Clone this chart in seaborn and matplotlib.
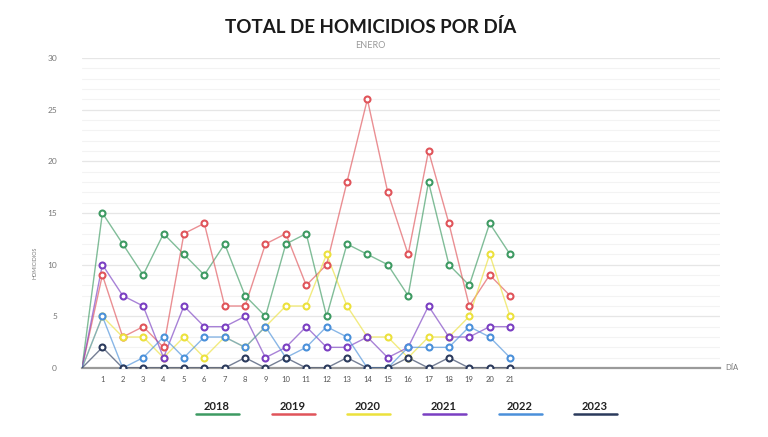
import numpy as np
import pandas as pd
import matplotlib
matplotlib.use("Agg")
import matplotlib.pyplot as plt
from matplotlib.lines import Line2D
from matplotlib.ticker import MultipleLocator
import seaborn as sns

# ---- data ----
days = list(range(1, 22))
years = ["2018", "2019", "2020", "2021", "2022", "2023"]
h2018 = [15, 12, 9, 13, 11, 9, 12, 7, 5, 12, 13, 5, 12, 11, 10, 7, 18, 10, 8, 14, 11]
h2019 = [9, 3, 4, 2, 13, 14, 6, 6, 12, 13, 8, 10, 18, 26, 17, 11, 21, 14, 6, 9, 7]
h2020 = [5, 3, 3, 1, 3, 1, 3, 2, 4, 6, 6, 11, 6, 3, 3, 1, 3, 3, 5, 11, 5]
h2021 = [10, 7, 6, 1, 6, 4, 4, 5, 1, 2, 4, 2, 2, 3, 1, 2, 6, 3, 3, 4, 4]
h2022 = [5, 0, 1, 3, 1, 3, 3, 2, 4, 1, 2, 4, 3, 0, 0, 2, 2, 2, 4, 3, 1]
h2023 = [2, 0, 0, 0, 0, 0, 0, 1, 0, 1, 0, 0, 1, 0, 0, 1, 0, 1, 0, 0, 0]
series = dict(zip(years, [h2018, h2019, h2020, h2021, h2022, h2023]))
origin_day, origin_value = 0, 0
x_ticks = days
y_ticks = [0, 5, 10, 15, 20, 25, 30]

colors = {
    "2018": "#3d9a62",
    "2019": "#e0545a",
    "2020": "#ece13c",
    "2021": "#7a3fc2",
    "2022": "#4a90da",
    "2023": "#2b3a5c",
}

rows = []
for yr, vals in series.items():
    rows.append({"year": yr, "dia": origin_day, "homicidios": origin_value})
    for d, v in zip(days, vals):
        rows.append({"year": yr, "dia": d, "homicidios": v})
df = pd.DataFrame(rows)
pts = df[df["dia"] > origin_day]

# ---- style ----
sns.set_theme(style="white")
plt.rcParams["font.family"] = ["Lato", "DejaVu Sans"]

fig = plt.figure(figsize=(7.68, 4.37), dpi=100)
fig.patch.set_facecolor("white")
ax = fig.add_axes([82 / 768, 1 - 368 / 437, (720 - 82) / 768, (368 - 58) / 437])

# lines (lighter)
sns.lineplot(data=df, x="dia", y="homicidios", hue="year", hue_order=years,
             palette=colors, lw=1.0, alpha=0.65, legend=False, ax=ax,
             estimator=None, sort=False, zorder=2)
# markers (open circles)
for yr in years:
    sub = pts[pts["year"] == yr]
    sns.lineplot(data=sub, x="dia", y="homicidios", color=colors[yr],
                 linestyle="", marker="o", markersize=4.3,
                 markerfacecolor="white", markeredgecolor=colors[yr],
                 markeredgewidth=1.5, legend=False, ax=ax, zorder=3)

ax.set_xlim(0, 31.3)
ax.set_ylim(0, 30)
ax.set_xticks(x_ticks)
ax.set_xticklabels([str(d) for d in x_ticks])
ax.set_yticks(y_ticks)
ax.yaxis.set_minor_locator(MultipleLocator(1))
ax.grid(axis="y", which="major", color="#e6e6e6", lw=0.9, zorder=0)
ax.grid(axis="y", which="minor", color="#f3f3f3", lw=0.8, zorder=0)
ax.set_axisbelow(True)

for s in ["top", "right", "left"]:
    ax.spines[s].set_visible(False)
ax.spines["bottom"].set_color("#9a9a9a")
ax.spines["bottom"].set_linewidth(1.6)
ax.spines["bottom"].set_zorder(1)

ax.tick_params(axis="x", length=0, pad=6, labelsize=5.5, labelcolor="#555555")
ax.tick_params(axis="y", length=0, pad=18, labelsize=6, labelcolor="#777777")
ax.tick_params(axis="y", which="minor", length=0)

ax.set_xlabel("")
ax.set_ylabel("HOMICIDIOS", fontsize=3.8, color="#777777")
ax.yaxis.set_label_coords(-0.069, 0.34)
ax.text(1.008, 0, "DÍA", transform=ax.transAxes, fontsize=5.5,
        color="#777777", va="center", ha="left")

# titles
fig.text(371 / 768, 1 - 27 / 437, "TOTAL DE HOMICIDIOS POR DÍA", ha="center",
         va="center", fontsize=13.5, fontweight="bold", color="#1a1a1a")
fig.text(370 / 768, 1 - 46 / 437, "ENERO", ha="center", va="center",
         fontsize=6.5, color="#999999")

# legend (manual, below)
centers = [217, 293, 368, 444, 520, 595]
for yr, cx in zip(years, centers):
    fig.text(cx / 768, 1 - 407 / 437, yr, ha="center", va="center",
             fontsize=8, fontweight="bold", color="#222222")
    fig.add_artist(Line2D([(cx - 21.5) / 768, (cx + 21.5) / 768],
                          [1 - 414 / 437, 1 - 414 / 437],
                          color=colors[yr], lw=1.8, transform=fig.transFigure))

fig.savefig("out.png", dpi=100, facecolor="white")
